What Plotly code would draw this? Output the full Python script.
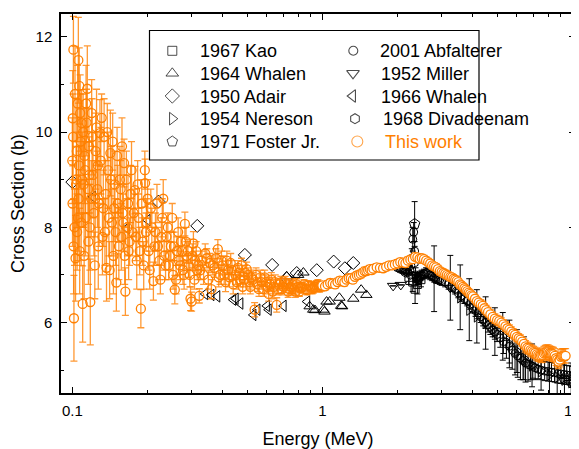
import plotly.graph_objects as go

# ---------------- data ----------------
# This work (orange) - low energy part
tw_low_e = [0.1000, 0.1002, 0.1004, 0.1007, 0.1010, 0.1012, 0.1015, 0.1020, 0.1025, 0.1030,
            0.1035, 0.1040, 0.1042, 0.1045, 0.1050, 0.1053, 0.1057, 0.1060, 0.1063, 0.1066,
            0.1070, 0.1075, 0.1080, 0.1085, 0.1090, 0.1095, 0.1100, 0.1105, 0.1110, 0.1115,
            0.1120, 0.1125, 0.1130, 0.1135, 0.1140, 0.1148, 0.1155, 0.1160, 0.1165, 0.1170,
            0.1175, 0.1180, 0.1190, 0.1195, 0.1200, 0.1210, 0.1220, 0.1230, 0.1235, 0.1240,
            0.1250, 0.1260, 0.1265, 0.1270, 0.1280, 0.1290, 0.1300, 0.1310, 0.1320, 0.1330,
            0.1340, 0.1350, 0.1360, 0.1370, 0.1380, 0.1390, 0.1400, 0.1410, 0.1420, 0.1430,
            0.1440, 0.1450, 0.1460, 0.1470, 0.1480, 0.1490, 0.1500, 0.1510, 0.1520, 0.1535,
            0.1550, 0.1560, 0.1570, 0.1580, 0.1590, 0.1600, 0.1610, 0.1620, 0.1630, 0.1645,
            0.1660, 0.1670, 0.1680, 0.1695, 0.1710, 0.1725, 0.1740, 0.1760, 0.1780, 0.1795,
            0.1810, 0.1825, 0.1840, 0.1860, 0.1880, 0.1895, 0.1910, 0.1930, 0.1950, 0.1955,
            0.1970, 0.1980, 0.2000, 0.2020, 0.2040, 0.2060, 0.2080, 0.2110, 0.2130, 0.2150,
            0.2180, 0.2200, 0.2230, 0.2250, 0.2270, 0.2290, 0.2310, 0.2330, 0.2360, 0.2380,
            0.2410, 0.2430, 0.2460, 0.2480, 0.2510, 0.2530, 0.2550, 0.2570, 0.2600, 0.2620,
            0.2650, 0.2670, 0.2700, 0.2720, 0.2750, 0.2770, 0.2800, 0.2820, 0.2850, 0.2870,
            0.2900, 0.2920, 0.2950, 0.2970, 0.3000, 0.3020, 0.3050, 0.3080, 0.3100, 0.3130,
            0.3160, 0.3190, 0.3220]
tw_low_v = [9.40, 8.50, 10.29, 9.90, 11.73, 7.60, 6.09, 8.00, 10.80, 7.35,
            8.90, 9.00, 9.60, 7.90, 10.60, 8.20, 11.51, 8.60, 9.30, 10.97,
            7.50, 10.40, 9.80, 8.10, 10.19, 9.00, 6.39, 10.00, 8.90, 7.40,
            9.50, 9.20, 8.20, 10.60, 10.20, 10.91, 8.80, 7.70, 9.70, 9.10,
            8.00, 6.43, 8.60, 10.40, 9.90, 9.10, 8.30, 7.20, 8.60, 9.60,
            10.10, 8.80, 9.30, 7.60, 8.50, 9.98, 9.40, 10.30, 7.80, 8.40,
            9.90, 7.90, 8.70, 7.15, 10.00, 9.20, 8.20, 7.10, 9.56, 9.00,
            8.10, 9.80, 7.40, 8.40, 8.90, 7.90, 6.84, 9.50, 8.50, 7.60,
            9.00, 8.80, 7.80, 9.70, 8.30, 8.10, 9.35, 7.40, 6.65, 9.00,
            8.00, 8.50, 7.50, 7.70, 8.70, 9.20, 7.90, 8.30, 8.78, 7.80,
            7.30, 8.90, 8.20, 7.50, 6.29, 8.50, 7.70, 7.20, 9.20, 8.93,
            7.90, 8.10, 8.60, 7.50, 7.10, 8.40, 8.00, 6.87, 7.60, 7.90,
            8.50, 7.60, 7.30, 6.90, 7.80, 8.20, 8.60, 7.40, 7.20, 7.80,
            8.00, 7.20, 7.40, 7.60, 8.20, 7.00, 7.60, 6.69, 6.90, 7.50,
            7.90, 7.30, 7.20, 7.70, 7.50, 7.10, 7.00, 8.07, 7.70, 7.40,
            7.50, 7.20, 7.00, 6.50, 6.44, 7.40, 7.66, 6.90, 7.30, 7.50,
            7.10, 7.20, 6.56]
tw_low_err = [0.9, 0.9, 1.0, 0.9, 0.7, 1.0, 0.9, 0.8, 1.0, 0.9,
              0.8, 1.0, 1.1, 0.8, 0.8, 0.9, 0.9, 1.1, 1.0, 0.8,
              0.9, 0.8, 1.0, 0.9, 0.7, 1.0, 0.8, 0.8, 0.9, 0.9,
              1.0, 0.9, 0.8, 0.8, 0.7, 0.9, 1.0, 0.9, 0.8, 0.8,
              0.9, 0.9, 0.8, 0.7, 0.8, 0.9, 0.9, 0.7, 0.8, 0.8,
              0.8, 0.8, 0.7, 0.9, 0.9, 0.7, 0.7, 0.5, 0.8, 0.8,
              0.8, 0.7, 0.7, 0.7, 0.6, 0.8, 0.8, 0.6, 0.9, 0.7,
              0.7, 0.6, 0.8, 0.7, 0.7, 0.7, 0.6, 0.6, 0.8, 0.7,
              0.7, 0.6, 0.7, 0.6, 0.6, 0.6, 0.5, 0.6, 0.5, 0.6,
              0.6, 0.6, 0.6, 0.5, 0.6, 0.6, 0.5, 0.5, 0.5, 0.5,
              0.6, 0.5, 0.5, 0.5, 0.4, 0.5, 0.5, 0.5, 0.4, 0.5,
              0.4, 0.5, 0.4, 0.4, 0.4, 0.4, 0.4, 0.4, 0.4, 0.4,
              0.4, 0.4, 0.4, 0.3, 0.4, 0.4, 0.4, 0.3, 0.3, 0.3,
              0.3, 0.3, 0.3, 0.3, 0.3, 0.3, 0.3, 0.3, 0.3, 0.3,
              0.3, 0.3, 0.3, 0.3, 0.3, 0.3, 0.3, 0.25, 0.3, 0.3,
              0.25, 0.25, 0.25, 0.25, 0.2, 0.25, 0.25, 0.2, 0.2, 0.2,
              0.2, 0.2, 0.15]

# This work - middle part
tw_mid_e = [0.325, 0.330, 0.335, 0.340, 0.345, 0.350, 0.355, 0.360, 0.365, 0.370,
            0.375, 0.382, 0.385, 0.390, 0.395, 0.400, 0.405, 0.410, 0.415, 0.420,
            0.425, 0.430, 0.435, 0.440, 0.450, 0.455, 0.460, 0.465, 0.470, 0.475,
            0.480, 0.485, 0.490, 0.498, 0.505, 0.510, 0.515, 0.520, 0.528, 0.536,
            0.543, 0.550, 0.558, 0.565, 0.572, 0.580, 0.588, 0.595, 0.603, 0.610,
            0.618, 0.625, 0.633, 0.640, 0.648, 0.657, 0.665, 0.675, 0.683, 0.690,
            0.700, 0.710, 0.720, 0.730, 0.740, 0.750, 0.760, 0.770, 0.780, 0.790,
            0.800, 0.810, 0.820, 0.830, 0.845, 0.860, 0.870, 0.880, 0.895, 0.910,
            0.920, 0.930, 0.945, 0.960, 0.975, 0.990]
tw_mid_v = [7.10, 7.30, 7.00, 7.45, 7.35, 6.90, 7.25, 6.70, 7.20, 7.15,
            7.35, 7.54, 6.95, 7.00, 7.30, 7.20, 7.00, 6.85, 7.30, 7.10,
            6.95, 7.25, 7.10, 6.80, 7.00, 6.85, 7.15, 7.05, 6.90, 7.20,
            6.75, 6.90, 7.05, 7.12, 7.00, 6.85, 6.75, 6.95, 6.90, 6.27,
            7.00, 6.80, 6.70, 6.95, 6.85, 6.70, 6.95, 6.85, 6.75, 6.60,
            6.80, 6.90, 6.65, 6.75, 6.85, 6.37, 6.70, 6.80, 6.85, 6.70,
            6.75, 6.85, 6.80, 6.65, 6.70, 6.75, 6.80, 6.70, 6.65, 6.80,
            6.75, 6.65, 6.72, 6.75, 6.80, 6.70, 6.68, 6.78, 6.76, 6.70,
            6.72, 6.75, 6.78, 6.80, 6.74, 6.76]
tw_mid_err = [0.2, 0.2, 0.2, 0.2, 0.2, 0.2, 0.2, 0.2, 0.2, 0.2,
              0.2, 0.2, 0.2, 0.2, 0.2, 0.2, 0.2, 0.2, 0.2, 0.2,
              0.2, 0.2, 0.2, 0.2, 0.2, 0.15, 0.15, 0.15, 0.15, 0.15,
              0.15, 0.15, 0.15, 0.15, 0.15, 0.15, 0.15, 0.15, 0.15, 0.15,
              0.15, 0.15, 0.15, 0.15, 0.15, 0.15, 0.15, 0.15, 0.15, 0.15,
              0.15, 0.15, 0.15, 0.15, 0.15, 0.15, 0.12, 0.12, 0.12, 0.12,
              0.12, 0.12, 0.12, 0.12, 0.12, 0.12, 0.12, 0.12, 0.12, 0.12,
              0.1, 0.1, 0.1, 0.1, 0.1, 0.1, 0.1, 0.1, 0.1, 0.1,
              0.1, 0.1, 0.1, 0.1, 0.1, 0.1]

# This work - high energy part
tw_high_e = [1.000, 1.025, 1.050, 1.075, 1.100, 1.125, 1.150, 1.175, 1.200, 1.225,
             1.250, 1.275, 1.300, 1.325, 1.350, 1.375, 1.400, 1.425, 1.450, 1.475,
             1.500, 1.525, 1.550, 1.575, 1.600, 1.650, 1.700, 1.750, 1.800, 1.850,
             1.900, 1.950, 2.000, 2.050, 2.100, 2.150, 2.200, 2.250, 2.300, 2.350,
             2.400, 2.450, 2.500, 2.550, 2.600, 2.650, 2.700, 2.750, 2.800, 2.850,
             2.900, 2.950, 3.000, 3.050, 3.100, 3.150, 3.200, 3.250, 3.300, 3.350,
             3.400, 3.450, 3.500, 3.550, 3.600, 3.650, 3.700, 3.750, 3.800, 3.850,
             3.900, 3.950, 4.000, 4.080, 4.150, 4.220, 4.300, 4.380, 4.450, 4.520,
             4.600, 4.700, 4.800, 4.900, 5.000, 5.100, 5.200, 5.300, 5.400, 5.500,
             5.600, 5.700, 5.800, 5.900, 6.000, 6.100, 6.200, 6.300, 6.400, 6.500,
             6.600, 6.700, 6.800, 6.900, 7.000, 7.100, 7.200, 7.300, 7.400, 7.500,
             7.600, 7.700, 7.800, 7.900, 8.000, 8.100, 8.200, 8.300, 8.400, 8.500,
             8.600, 8.700, 8.800, 8.900, 9.000, 9.100, 9.200, 9.300, 9.400]
tw_high_v = [6.78, 6.76, 6.80, 6.83, 6.82, 6.80, 6.85, 6.88, 6.87, 6.85,
             6.90, 6.93, 6.93, 6.90, 6.96, 6.99, 7.00, 7.02, 7.05, 7.08,
             7.08, 7.10, 7.12, 7.10, 7.13, 7.16, 7.15, 7.14, 7.17, 7.20,
             7.20, 7.22, 7.24, 7.27, 7.26, 7.25, 7.30, 7.32, 7.33, 7.38,
             7.37, 7.34, 7.35, 7.33, 7.30, 7.27, 7.24, 7.20, 7.18, 7.16,
             7.12, 7.08, 7.06, 7.04, 7.02, 7.00, 6.98, 6.96, 6.95, 6.92,
             6.90, 6.88, 6.85, 6.80, 6.78, 6.75, 6.72, 6.69, 6.66, 6.63,
             6.60, 6.57, 6.55, 6.50, 6.45, 6.42, 6.38, 6.35, 6.30, 6.26,
             6.22, 6.17, 6.12, 6.08, 6.05, 6.03, 6.00, 5.96, 5.92, 5.88,
             5.85, 5.81, 5.77, 5.74, 5.70, 5.67, 5.64, 5.60, 5.55, 5.50,
             5.47, 5.45, 5.42, 5.40, 5.38, 5.36, 5.33, 5.31, 5.30, 5.31,
             5.32, 5.35, 5.37, 5.38, 5.38, 5.36, 5.35, 5.34, 5.33, 5.30,
             5.25, 5.22, 5.18, 5.22, 5.28, 5.30, 5.30, 5.30, 5.30]
tw_high_err = [0.08, 0.08, 0.08, 0.08, 0.08, 0.08, 0.08, 0.08, 0.08, 0.08,
               0.08, 0.08, 0.08, 0.08, 0.08, 0.08, 0.08, 0.08, 0.08, 0.08,
               0.08, 0.08, 0.08, 0.08, 0.08, 0.08, 0.08, 0.08, 0.08, 0.08,
               0.08, 0.08, 0.08, 0.08, 0.08, 0.08, 0.08, 0.08, 0.08, 0.08,
               0.08, 0.08, 0.08, 0.08, 0.08, 0.08, 0.08, 0.08, 0.08, 0.08,
               0.08, 0.08, 0.08, 0.08, 0.08, 0.08, 0.08, 0.08, 0.08, 0.08,
               0.08, 0.08, 0.08, 0.08, 0.08, 0.08, 0.08, 0.08, 0.08, 0.08,
               0.08, 0.08, 0.08, 0.08, 0.08, 0.08, 0.1, 0.1, 0.1, 0.1,
               0.1, 0.1, 0.1, 0.1, 0.1, 0.1, 0.1, 0.1, 0.1, 0.1,
               0.1, 0.1, 0.1, 0.1, 0.1, 0.1, 0.1, 0.1, 0.1, 0.12,
               0.12, 0.12, 0.12, 0.12, 0.12, 0.12, 0.12, 0.12, 0.12, 0.15,
               0.15, 0.15, 0.15, 0.15, 0.15, 0.15, 0.15, 0.15, 0.15, 0.15,
               0.15, 0.15, 0.15, 0.15, 0.15, 0.15, 0.15, 0.15, 0.15]

# 2001 Abfalterer (black circles)
abf_e = [2.00, 2.05, 2.10, 2.15, 2.20, 2.24, 2.26, 2.28, 2.30, 2.32, 2.34, 2.36, 2.38,
         2.40, 2.42, 2.45, 2.47, 2.50, 2.55, 2.60, 2.65, 2.70, 2.75, 2.80, 2.85, 2.90,
         2.95, 3.00, 3.10, 3.20, 3.30, 3.40, 3.50, 3.60, 3.70, 3.80, 3.90, 4.00, 4.10,
         4.20, 4.30, 4.40, 4.50, 4.60, 4.70, 4.80, 4.90, 5.00, 5.15, 5.30, 5.45, 5.60,
         5.75, 5.90, 6.05, 6.20, 6.35, 6.50, 6.65, 6.80, 6.95, 7.10, 7.30, 7.50, 7.75,
         8.00, 8.25, 8.50, 8.75, 9.00, 9.25, 9.50, 9.75, 10.0]
abf_v = [7.15, 7.12, 7.10, 7.08, 7.05, 7.10, 7.20, 7.35, 7.75, 7.90, 7.50, 7.00, 6.95,
         6.90, 6.90, 6.95, 6.98, 7.00, 7.02, 7.05, 7.03, 7.00, 6.98, 6.95, 6.94, 6.92,
         6.90, 6.88, 6.85, 6.80, 6.75, 6.70, 6.62, 6.55, 6.50, 6.45, 6.38, 6.30, 6.25,
         6.20, 6.12, 6.05, 6.00, 5.95, 5.90, 5.85, 5.80, 5.75, 5.68, 5.60, 5.55, 5.50,
         5.42, 5.35, 5.30, 5.25, 5.20, 5.15, 5.12, 5.10, 5.08, 5.05, 5.02, 5.00, 4.98,
         4.97, 4.96, 4.95, 4.93, 4.92, 4.91, 4.90, 4.89, 4.88]
abf_err = [0.05, 0.05, 0.05, 0.05, 0.05, 0.1, 0.15, 0.2, 0.25, 0.2, 0.2, 0.15, 0.1,
           0.1, 0.1, 0.1, 0.1, 0.1, 0.1, 0.1, 0.1, 0.1, 0.1, 0.1, 0.1, 0.1,
           0.1, 0.1, 0.1, 0.1, 0.1, 0.1, 0.1, 0.1, 0.1, 0.1, 0.1, 0.1, 0.12,
           0.12, 0.12, 0.12, 0.12, 0.15, 0.15, 0.15, 0.15, 0.15, 0.2, 0.25, 0.3, 0.35,
           0.4, 0.45, 0.45, 0.45, 0.4, 0.4, 0.35, 0.3, 0.25, 0.25, 0.2, 0.2, 0.2,
           0.2, 0.2, 0.2, 0.2, 0.2, 0.2, 0.2, 0.2, 0.2]

# 1967 Kao (squares)
kao_e = [2.22, 2.30, 2.35, 2.40, 2.48]
kao_v = [6.95, 6.85, 6.70, 6.80, 6.90]
kao_err = [0.15, 0.2, 0.3, 0.2, 0.15]

# 1964 Whalen (up triangles)
wh64_e = [0.72, 0.80, 0.84, 0.89, 0.92, 0.935, 1.01, 1.02, 1.04, 1.07,
          1.17, 1.19, 1.20, 1.33, 1.43, 1.50]
wh64_v = [6.97, 7.00, 7.05, 6.34, 6.27, 6.26, 6.27, 6.23, 6.44, 6.44,
          6.52, 6.35, 6.34, 6.50, 6.69, 6.58]

# 1952 Miller (down triangles)
mil_e = [1.92, 2.06, 2.80, 3.25, 9.10, 9.80]
mil_v = [6.77, 6.79, 6.92, 6.73, 4.83, 4.73]
mil_err = [0.0, 0.0, 0.69, 0.68, 0.0, 0.0]

# 1950 Adair (diamonds)
ada_e = [0.100, 0.221, 0.316, 0.490, 0.630, 0.720, 0.790, 0.950, 1.11, 1.23, 1.33]
ada_v = [8.95, 8.54, 8.03, 7.42, 7.21, 6.93, 7.04, 7.10, 7.28, 7.14, 7.25]

# 1966 Whalen (left triangles)
wh66_e = [0.121, 0.165, 0.200, 0.34, 0.36, 0.38, 0.44, 0.45, 0.47, 0.53,
          0.55, 0.60, 0.61, 0.70, 0.87]
wh66_v = [8.64, 7.98, 8.15, 6.60, 6.58, 6.55, 6.48, 6.50, 6.40, 6.16,
          6.27, 6.35, 6.27, 6.35, 6.44]

# 1954 Nereson (right triangles)
ner_e = [3.56, 3.87, 4.15, 4.50, 4.90, 5.27, 5.60, 6.00, 6.40, 6.90, 7.50, 8.10, 8.70, 9.30, 9.90]
ner_v = [6.53, 6.27, 6.13, 5.99, 5.81, 5.71, 5.55, 5.40, 5.25, 5.10, 4.98, 4.90, 4.85, 4.80, 4.75]
ner_err = [0.68, 0.65, 0.56, 0.55, 0.5, 0.5, 0.5, 0.45, 0.45, 0.45, 0.4, 0.4, 0.4, 0.4, 0.4]

# 1968 Divadeenam (hexagons)
div_e = [2.15, 2.25, 2.33, 2.42, 2.55]
div_v = [7.05, 7.00, 7.25, 6.95, 7.02]

# 1971 Foster Jr. (pentagons)
fos_e = [2.34]
fos_v = [8.07]
fos_err = [0.47]

# legend entries (two columns)
leg1_names = ["1967 Kao", "1964 Whalen", "1950 Adair", "1954 Nereson", "1971 Foster Jr."]
leg2_names = ["2001 Abfalterer", "1952 Miller", "1966 Whalen", "1968 Divadeenam", "This work"]

x_tickvals = [0.1, 1, 10]
x_ticktext = ["0.1", "1", "10"]
x_minor = [0.2, 0.3, 0.4, 0.5, 0.6, 0.7, 0.8, 0.9, 2, 3, 4, 5, 6, 7, 8, 9]
y_tickvals = [6, 8, 10, 12]
y_minor = [5, 7, 9, 11]

# ---------------- figure ----------------
FONT = "Liberation Sans, Arial, Helvetica, sans-serif"
ORANGE = "rgb(255,128,0)"
OFF = 8  # page body margin
W, H = 579 - OFF, 449 - OFF
L, R, T, B = 53, 4, 6, 56
pw, ph = W - L - R, H - T - B


def px(xw):
    """window pixel x -> paper fraction"""
    return (xw - OFF - L) / pw


def py(yw):
    """window pixel y -> paper fraction"""
    return (H - B - (yw - OFF)) / ph


fig = go.Figure()


def black(name, e, v, sym, err=None, size=9):
    kw = {}
    if err is not None:
        kw["error_y"] = dict(type="data", array=err, visible=True,
                             color="black", thickness=1, width=3)
    fig.add_trace(go.Scatter(
        x=e, y=v, mode="markers", name=name, showlegend=False,
        marker=dict(symbol=sym, size=size, color="black",
                    line=dict(color="black", width=1)),
        **kw))


black("2001 Abfalterer", abf_e, abf_v, "circle-open", abf_err, size=8)
black("1954 Nereson", ner_e, ner_v, "triangle-right-open", ner_err, size=10)
black("1952 Miller", mil_e, mil_v, "triangle-down-open", mil_err, size=10)
black("1967 Kao", kao_e, kao_v, "square-open", kao_err, size=8)
black("1968 Divadeenam", div_e, div_v, "hexagon-open", size=9)
black("1964 Whalen", wh64_e, wh64_v, "triangle-up-open", size=10)
black("1966 Whalen", wh66_e, wh66_v, "triangle-left-open", size=10)
black("1950 Adair", ada_e, ada_v, "diamond-open", size=10)
black("1971 Foster Jr.", fos_e, fos_v, "pentagon-open", fos_err, size=11)

# this work: low/mid energy (open circles) and high energy (white-filled circles)
fig.add_trace(go.Scatter(
    x=tw_low_e + tw_mid_e, y=tw_low_v + tw_mid_v,
    mode="markers", name="This work", showlegend=False,
    marker=dict(symbol="circle-open", size=9, color=ORANGE, line=dict(width=1.3)),
    error_y=dict(type="data", array=tw_low_err + tw_mid_err, visible=True,
                 color="rgba(255,128,0,0.8)", thickness=1.3, width=3.5)))
fig.add_trace(go.Scatter(
    x=tw_high_e, y=tw_high_v,
    mode="markers", name="This work", showlegend=False,
    marker=dict(symbol="circle", size=9, color="white",
                line=dict(color=ORANGE, width=1.3)),
    error_y=dict(type="data", array=tw_high_err, visible=True,
                 color="rgba(255,128,0,0.8)", thickness=1.2, width=3.5)))

# ---- legend (drawn in a box, two columns) ----
fig.add_shape(type="rect", xref="paper", yref="paper",
              x0=px(149.5), x1=px(479), y0=py(160), y1=py(30.5),
              line=dict(color="black", width=1.2), fillcolor="rgba(0,0,0,0)", layer="above")

rows_y = [50.8, 73.3, 96.0, 118.7, 141.5]
col1_sym = ["square-open", "triangle-up-open", "diamond-open", "triangle-right-open", "pentagon-open"]
col2_sym = ["circle-open", "triangle-down-open", "triangle-left-open", "hexagon-open", "circle-open"]
col1_size = [9, 11, 11, 11, 11]
col2_size = [9, 11, 11, 10, 11]
col2_x = [353.3, 353.0, 352.7, 355.0, 357.3]
col2_tx = [379.3, 380.0, 380.0, 381.7, 384.3]

fig.add_trace(go.Scatter(
    x=[px(172.3)] * 5, y=[py(v) for v in rows_y], xaxis="x2", yaxis="y2",
    mode="markers", showlegend=False, hoverinfo="skip",
    marker=dict(symbol=col1_sym, size=col1_size, color="black",
                line=dict(color="black", width=1))))
fig.add_trace(go.Scatter(
    x=[px(v) for v in col2_x], y=[py(v) for v in rows_y], xaxis="x2", yaxis="y2",
    mode="markers", showlegend=False, hoverinfo="skip",
    marker=dict(symbol=col2_sym, size=col2_size,
                color=["black"] * 4 + [ORANGE],
                line=dict(width=1.1))))

for i, name in enumerate(leg1_names):
    fig.add_annotation(x=px(199), y=py(rows_y[i] + 0.5), xref="paper", yref="paper",
                       text=name, showarrow=False, xanchor="left", yanchor="middle",
                       borderpad=0, font=dict(family=FONT, size=18, color="black"))
for i, name in enumerate(leg2_names):
    fig.add_annotation(x=px(col2_tx[i]), y=py(rows_y[i] + 0.5), xref="paper", yref="paper",
                       text=name, showarrow=False, xanchor="left", yanchor="middle",
                       borderpad=0,
                       font=dict(family=FONT, size=18,
                                 color=ORANGE if name == "This work" else "black"))

axis_common = dict(showline=True, linecolor="black", linewidth=1.5, mirror="ticks",
                   ticks="inside", ticklen=6, tickwidth=1.2, tickcolor="black",
                   showgrid=False, zeroline=False, ticklabeloverflow="allow",
                   tickfont=dict(family=FONT, size=15, color="black"))

fig.update_layout(
    width=W, height=H,
    margin=dict(l=L, r=R, t=T, b=B, autoexpand=False),
    paper_bgcolor="white", plot_bgcolor="white",
    font=dict(family=FONT, color="black"),
    showlegend=False,
    xaxis=dict(type="log", range=[-1.0453, 1.0107],
               tickmode="array", tickvals=x_tickvals, ticktext=x_ticktext,
               ticklabelstandoff=3,
               minor=dict(tickmode="array", tickvals=x_minor, ticks="inside",
                          ticklen=3, tickwidth=1, tickcolor="black"),
               title=dict(text="Energy (MeV)", standoff=15,
                          font=dict(family=FONT, size=18, color="black")),
               **axis_common),
    yaxis=dict(range=[4.52, 12.48],
               tickmode="array", tickvals=y_tickvals, ticklabelstandoff=4,
               minor=dict(tickmode="array", tickvals=y_minor, ticks="inside",
                          ticklen=3, tickwidth=1, tickcolor="black"),
               title=dict(text="Cross Section (b)", standoff=8,
                          font=dict(family=FONT, size=18, color="black")),
               **axis_common),
    xaxis2=dict(overlaying="x", range=[0, 1], visible=False, fixedrange=True),
    yaxis2=dict(overlaying="y", range=[0, 1], visible=False, fixedrange=True),
)

fig.write_html("out.html")
